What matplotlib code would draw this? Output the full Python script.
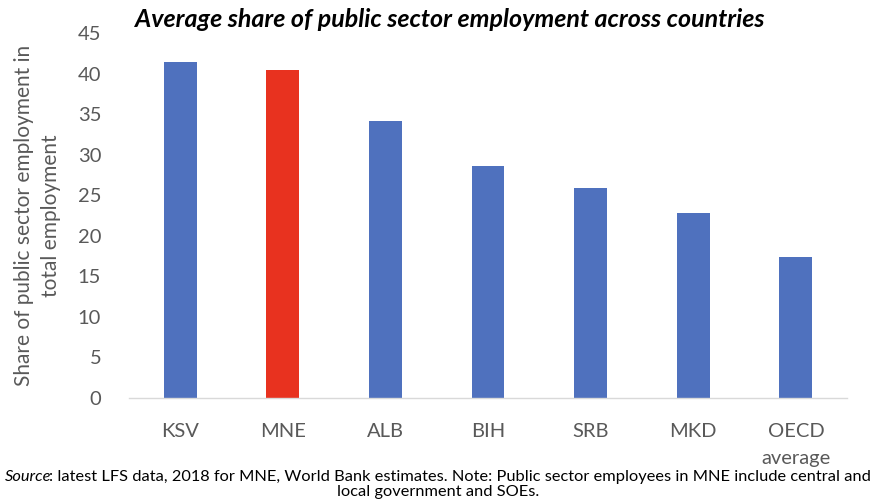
import matplotlib
matplotlib.use("Agg")
import matplotlib.pyplot as plt

categories = ["KSV", "MNE", "ALB", "BIH", "SRB", "MKD", "OECD\naverage"]
values = [41.4, 40.5, 34.1, 28.6, 25.9, 22.8, 17.4]
colors = ["#4F71BE", "#E8321F", "#4F71BE", "#4F71BE", "#4F71BE", "#4F71BE", "#4F71BE"]
yticks = [0, 5, 10, 15, 20, 25, 30, 35, 40, 45]

plt.rcParams['font.family'] = ['Lato', 'DejaVu Sans']

fig = plt.figure(figsize=(8.77, 5.01), dpi=100)
ax = fig.add_axes([0.147, 0.2056, 0.819, 0.7284])

x = range(len(categories))
ax.bar(x, values, width=0.32, color=colors)
ax.set_xlim(-0.5, len(categories) - 0.5)
ax.set_ylim(0, 45)
ax.set_yticks(yticks)
ax.set_xticks(list(x))
ax.set_xticklabels(categories, fontsize=14.5, color="#595959", va="top", linespacing=1.75)
ax.tick_params(axis='y', labelsize=14.5, colors="#595959", length=0, pad=20)
ax.tick_params(axis='x', length=0, pad=18)
for s in ["top", "right", "left"]:
    ax.spines[s].set_visible(False)
ax.spines["bottom"].set_color("#D9D9D9")
ax.spines["bottom"].set_linewidth(1)

ax.set_ylabel("Share of public sector employment in\ntotal employment", fontsize=15,
              color="#595959", labelpad=12, linespacing=1.45)

fig.text(0.513, 0.962, "Average share of public sector employment across countries",
         ha="center", va="center", fontsize=18, fontweight="bold", fontstyle="italic", color="black")

t1 = fig.text(0.006, 0.040, "Source", fontsize=11.8, fontstyle="italic", color="black", ha="left", va="baseline")
ax.annotate(": latest LFS data, 2018 for MNE, World Bank estimates. Note: Public sector employees in MNE include central and",
            xy=(1, 0), xycoords=t1, xytext=(-2, 0), textcoords="offset points",
            va="bottom", ha="left", fontsize=11.8, color="black")
fig.text(0.5, 0.003, "local government and SOEs.", fontsize=11.8, color="black", ha="center", va="bottom")

fig.savefig("out.png", dpi=100)
